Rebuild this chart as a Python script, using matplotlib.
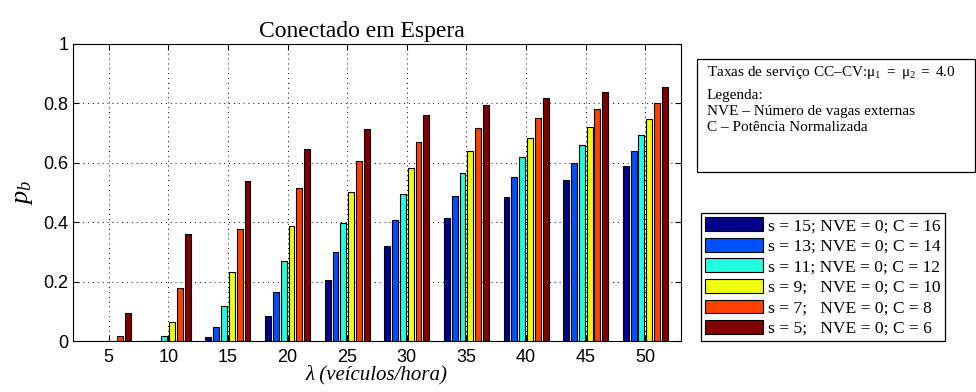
import numpy as np
import matplotlib
matplotlib.use("Agg")
import matplotlib.pyplot as plt
from matplotlib.patches import Rectangle, Patch

plt.rcParams['mathtext.fontset'] = 'custom'
plt.rcParams['mathtext.rm'] = 'Liberation Serif'
plt.rcParams['mathtext.it'] = 'Liberation Serif:italic'

# data
lam = [5, 10, 15, 20, 25, 30, 35, 40, 45, 50]
pb_s15 = [0.0, 0.0, 0.013, 0.085, 0.206, 0.320, 0.413, 0.485, 0.542, 0.588]
pb_s13 = [0.0, 0.001, 0.046, 0.165, 0.299, 0.406, 0.489, 0.552, 0.601, 0.640]
pb_s11 = [0.0, 0.017, 0.118, 0.270, 0.398, 0.494, 0.564, 0.619, 0.661, 0.694]
pb_s9 = [0.001, 0.063, 0.231, 0.388, 0.501, 0.582, 0.639, 0.685, 0.720, 0.747]
pb_s7 = [0.017, 0.178, 0.376, 0.515, 0.607, 0.670, 0.717, 0.752, 0.780, 0.801]
pb_s5 = [0.095, 0.361, 0.539, 0.647, 0.715, 0.761, 0.794, 0.819, 0.839, 0.855]
labels = ["s = 15; NVE = 0; C = 16",
          "s = 13; NVE = 0; C = 14",
          "s = 11; NVE = 0; C = 12",
          "s = 9;   NVE = 0; C = 10",
          "s = 7;   NVE = 0; C = 8",
          "s = 5;   NVE = 0; C = 6"]
colors = ['#00008C', '#0050FF', '#20FFDF', '#EFFF10', '#FF4000', '#800000']

series = [pb_s15, pb_s13, pb_s11, pb_s9, pb_s7, pb_s5]

fig = plt.figure(figsize=(9.76, 3.92), dpi=100)
ax = fig.add_axes([73 / 976, 51 / 392, 608 / 976, 297 / 392])

x = np.array(lam, dtype=float)
step = 0.655
for i, vals in enumerate(series):
    ax.bar(x + (i - 2.5) * step, vals, width=0.5, color=colors[i],
           edgecolor='black', linewidth=0.8, zorder=3)

ax.set_xlim(2, 53)
ax.set_ylim(0, 1)
ax.set_xticks(lam)
ax.set_yticks([0, 0.2, 0.4, 0.6, 0.8, 1])
ax.set_yticklabels(['0', '0.2', '0.4', '0.6', '0.8', '1'])
ax.tick_params(direction='in', top=True, right=True, labelsize=13, length=4)
ax.tick_params(axis='x', pad=6)
for lab in ax.get_xticklabels() + ax.get_yticklabels():
    lab.set_family('Liberation Sans')
ax.grid(True, color='black', linestyle=(0, (1, 4)), linewidth=0.7, zorder=0)
for sp in ax.spines.values():
    sp.set_linewidth(0.8)

ax.set_title('Conectado em Espera', family='Liberation Serif', fontsize=17,
             pad=5, x=0.475)
ax.set_xlabel('λ (veículos/hora)', family='Liberation Serif', style='italic',
              fontsize=15, labelpad=-1)
ax.set_ylabel('$p_b$', fontsize=19, labelpad=6)

# info box
fig.patches.append(Rectangle((697 / 976, 1 - 172 / 392), 278 / 976, 113 / 392,
                             transform=fig.transFigure, fill=False,
                             edgecolor='black', linewidth=0.9))
tfont = dict(family='Liberation Serif', fontsize=11, va='top', ha='left')
fig.text(707 / 976, 1 - 64 / 392,
         r'Taxas de serviço CC–CV:$\mathrm{\mu_1\ =\ \mu_2\ =\ 4.0}$', **tfont)
fig.text(707 / 976, 1 - 89 / 392, 'Legenda:', **tfont)
fig.text(707 / 976, 1 - 105 / 392, 'NVE – Número de vagas externas', **tfont)
fig.text(707 / 976, 1 - 121 / 392, 'C – Potência Normalizada', **tfont)

handles = [Patch(facecolor=c, edgecolor='black', linewidth=0.8) for c in colors]
leg = fig.legend(handles, labels, loc='upper left',
                 bbox_to_anchor=(701 / 976, 1 - 213 / 392),
                 prop={'family': 'Liberation Serif', 'size': 12.6},
                 handlelength=3.3, handleheight=0.85, labelspacing=0.2,
                 handletextpad=0.3, borderpad=0.25, borderaxespad=0,
                 fancybox=False, framealpha=1, edgecolor='black')
leg.get_frame().set_linewidth(0.9)

fig.savefig('out.png', dpi=100)
